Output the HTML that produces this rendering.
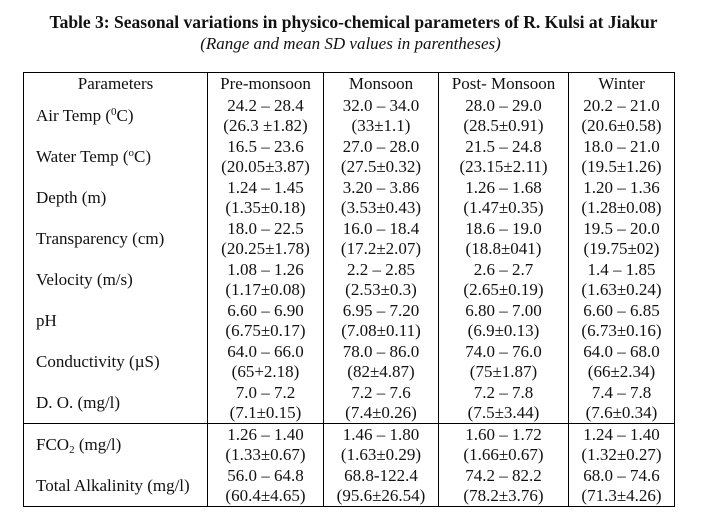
<!DOCTYPE html>
<html><head><meta charset="utf-8"><style>
body{margin:0;background:#fff;width:707px;height:526px;overflow:hidden;font-family:"Liberation Serif",serif;color:#111;}
.t{position:absolute;left:0;width:707px;text-align:center;}
#t1{top:12px;font-weight:bold;font-size:17.5px;}
#t2{top:34px;font-style:italic;font-size:17px;left:-3px;}
table{position:absolute;left:23px;top:72px;border-collapse:collapse;table-layout:fixed;font-size:17px;line-height:19.5px;}
td{border-left:1px solid #000;border-right:1px solid #000;padding:0;text-align:center;vertical-align:middle;white-space:nowrap;}
td.p{text-align:left;padding-left:12px;}
tr.h td{height:22px;border-top:1px solid #000;}
tr.r td{height:41px;}
tr.s td{border-top:1px solid #000;}
tr.e td{border-bottom:1px solid #000;}
sup{font-size:11px;vertical-align:6px;line-height:0}
sub{font-size:11px;vertical-align:-3px;line-height:0}
</style></head><body>
<div class="t" id="t1">Table 3: Seasonal variations in physico-chemical parameters of R. Kulsi at Jiakur</div>
<div class="t" id="t2">(Range and mean SD values in parentheses)</div>
<table>
<colgroup><col style="width:184px"><col style="width:116px"><col style="width:115px"><col style="width:130px"><col style="width:106px"></colgroup>
<tr class="h"><td>Parameters</td><td>Pre-monsoon</td><td>Monsoon</td><td>Post- Monsoon</td><td>Winter</td></tr>
<tr class="r"><td class="p">Air Temp (<sup>0</sup>C)</td><td>24.2 – 28.4<br>(26.3 ±1.82)</td><td>32.0 – 34.0<br>(33±1.1)</td><td>28.0 – 29.0<br>(28.5±0.91)</td><td>20.2 – 21.0<br>(20.6±0.58)</td></tr>
<tr class="r"><td class="p">Water Temp (<sup>o</sup>C)</td><td>16.5 – 23.6<br>(20.05±3.87)</td><td>27.0 – 28.0<br>(27.5±0.32)</td><td>21.5 – 24.8<br>(23.15±2.11)</td><td>18.0 – 21.0<br>(19.5±1.26)</td></tr>
<tr class="r"><td class="p">Depth (m)</td><td>1.24 – 1.45<br>(1.35±0.18)</td><td>3.20 – 3.86<br>(3.53±0.43)</td><td>1.26 – 1.68<br>(1.47±0.35)</td><td>1.20 – 1.36<br>(1.28±0.08)</td></tr>
<tr class="r"><td class="p">Transparency (cm)</td><td>18.0 – 22.5<br>(20.25±1.78)</td><td>16.0 – 18.4<br>(17.2±2.07)</td><td>18.6 – 19.0<br>(18.8±041)</td><td>19.5 – 20.0<br>(19.75±02)</td></tr>
<tr class="r"><td class="p">Velocity (m/s)</td><td>1.08 – 1.26<br>(1.17±0.08)</td><td>2.2 – 2.85<br>(2.53±0.3)</td><td>2.6 – 2.7<br>(2.65±0.19)</td><td>1.4 – 1.85<br>(1.63±0.24)</td></tr>
<tr class="r"><td class="p">pH</td><td>6.60 – 6.90<br>(6.75±0.17)</td><td>6.95 – 7.20<br>(7.08±0.11)</td><td>6.80 – 7.00<br>(6.9±0.13)</td><td>6.60 – 6.85<br>(6.73±0.16)</td></tr>
<tr class="r"><td class="p">Conductivity (µS)</td><td>64.0 – 66.0<br>(65+2.18)</td><td>78.0 – 86.0<br>(82±4.87)</td><td>74.0 – 76.0<br>(75±1.87)</td><td>64.0 – 68.0<br>(66±2.34)</td></tr>
<tr class="r"><td class="p" style="height:40px">D. O. (mg/l)</td><td>7.0 – 7.2<br>(7.1±0.15)</td><td>7.2 – 7.6<br>(7.4±0.26)</td><td>7.2 – 7.8<br>(7.5±3.44)</td><td>7.4 – 7.8<br>(7.6±0.34)</td></tr>
<tr class="r s"><td class="p">FCO<sub>2</sub> (mg/l)</td><td>1.26 – 1.40<br>(1.33±0.67)</td><td>1.46 – 1.80<br>(1.63±0.29)</td><td>1.60 – 1.72<br>(1.66±0.67)</td><td>1.24 – 1.40<br>(1.32±0.27)</td></tr>
<tr class="r e"><td class="p">Total Alkalinity (mg/l)</td><td>56.0 – 64.8<br>(60.4±4.65)</td><td>68.8-122.4<br>(95.6±26.54)</td><td>74.2 – 82.2<br>(78.2±3.76)</td><td>68.0 – 74.6<br>(71.3±4.26)</td></tr>
</table>
</body></html>
